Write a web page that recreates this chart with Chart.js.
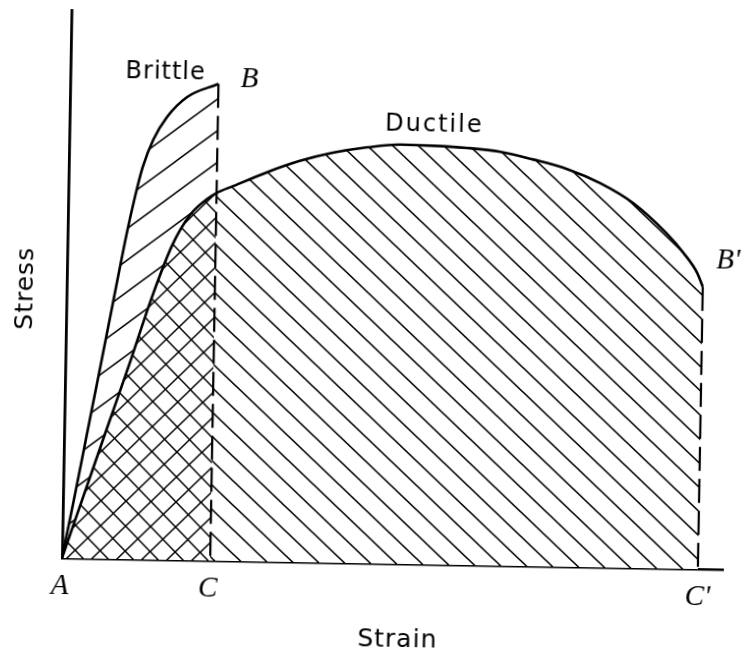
<!DOCTYPE html>
<html>
<head>
<meta charset="utf-8">
<script src="https://cdn.jsdelivr.net/npm/chart.js@4.4.1/dist/chart.umd.min.js"></script>
<style>
html,body{margin:0;padding:0;background:#fff;overflow:hidden;width:742px;height:655px}
#c{display:block;transform:rotate(1deg);transform-origin:62px 558px}
</style>
</head>
<body>
<canvas id="c" width="742" height="655"></canvas>
<script>
// ---- data (arbitrary strain / stress units) ----
const brittleStrain = [0, 0.17, 0.36, 0.55, 0.74, 0.93, 1.04, 1.16, 1.32, 1.53, 1.84, 2.33];
const brittleStress = [0, 10.6, 22.8, 35.0, 47.3, 59.5, 65.7, 71.5, 76.6, 80.8, 84.5, 87.0];
const ductileStrain = [0, 0.33, 0.66, 0.99, 1.34, 1.65, 1.92, 2.20, 2.33, 2.59, 3.11, 3.63, 4.15, 4.69, 5.20, 5.72, 6.26, 6.78, 7.30, 7.83, 8.36, 8.88, 9.42, 9.69, 9.91, 10.0];
const ductileStress = [0, 11.7, 23.4, 35.0, 47.8, 57.5, 63.0, 66.1, 67.1, 68.4, 71.0, 73.2, 74.8, 75.9, 76.5, 76.4, 76.1, 75.5, 74.2, 72.6, 70.1, 66.6, 61.1, 57.6, 54.0, 51.5];
const pointLabels = ['A', 'C', "C'"];
const pointLabelStrain = [0, 2.33, 10.0];
const curveNames = ['Brittle', 'Ductile'];
const endLabels = ['B', "B'"];
const xTitle = 'Strain';
const yTitle = 'Stress';
const strainMax = 10.4;
const stressMax = 100;

// ---- derived ----
const pts = (xs, ys) => xs.map((x, i) => ({x, y: ys[i]}));
const brittlePts = pts(brittleStrain, brittleStress);
const ductilePts = pts(ductileStrain, ductileStress);
const cStrain = brittleStrain[brittleStrain.length - 1];
const bStress = brittleStress[brittleStress.length - 1];
const cpStrain = ductileStrain[ductileStrain.length - 1];
const bpStress = ductileStress[ductileStress.length - 1];
const overlapPts = ductilePts.filter(p => p.x <= cStrain);

function hatch(w, h, dirs, lw) {
  const c = document.createElement('canvas');
  c.width = w; c.height = h;
  const g = c.getContext('2d');
  g.fillStyle = '#fff'; g.fillRect(0, 0, w, h);
  g.strokeStyle = '#000'; g.lineWidth = lw;
  for (const d of dirs) {
    for (const k of [-1, 0, 1]) {
      g.beginPath();
      if (d === 'back') { g.moveTo(k * w - w, -h); g.lineTo(k * w + 2 * w, 2 * h); }
      else { g.moveTo(k * w - w, 2 * h); g.lineTo(k * w + 2 * w, -h); }
      g.stroke();
    }
  }
  return g.createPattern(c, 'repeat');
}
const ductilePattern = hatch(26, 24, ['back'], 1.6);
const brittlePattern = hatch(42, 32, ['fwd'], 1.5);
const crossPattern = hatch(25, 25, ['back', 'fwd'], 1.5);

const labelPlugin = {
  id: 'labels',
  afterDraw(chart) {
    const {ctx, chartArea, scales: {x, y}} = chart;
    ctx.save();
    ctx.fillStyle = '#000';
    ctx.textAlign = 'center';
    ctx.textBaseline = 'middle';
    // point letters on the strain axis
    ctx.font = 'italic 29px "Liberation Serif"';
    const base = y.getPixelForValue(0);
    pointLabels.forEach((t, i) => {
      ctx.fillText(t, x.getPixelForValue(pointLabelStrain[i]) - 2 + (i === 2 ? 2 : 0), base + 28);
    });
    // fracture points
    ctx.fillText(endLabels[0], x.getPixelForValue(cStrain) + 31, y.getPixelForValue(bStress) - 5);
    ctx.fillText(endLabels[1], x.getPixelForValue(cpStrain) + 25, y.getPixelForValue(bpStress) - 26);
    // curve names
    ctx.font = '24px "DejaVu Sans"';
    ctx.letterSpacing = '1px';
    ctx.fillText(curveNames[0], x.getPixelForValue(cStrain) - 53, y.getPixelForValue(bStress) - 10);
    let im = 0; ductileStress.forEach((v, i) => { if (v > ductileStress[im]) im = i; });
    ctx.letterSpacing = '2px';
    ctx.fillText(curveNames[1], x.getPixelForValue(ductileStrain[im]) + 34, y.getPixelForValue(ductileStress[im]) - 20);
    // axis titles
    ctx.font = '25px "DejaVu Sans"';
    ctx.letterSpacing = '1px';
    ctx.fillText(xTitle, (chartArea.left + chartArea.right) / 2 + 6, chartArea.bottom + 76);
    ctx.save();
    ctx.translate(chartArea.left - 41, (chartArea.top + chartArea.bottom) / 2 + 5);
    ctx.rotate(-Math.PI / 2);
    ctx.fillText(yTitle, 0, 0);
    ctx.restore();
    ctx.restore();
  }
};

new Chart(document.getElementById('c'), {
  type: 'scatter',
  data: {
    datasets: [
      { data: [{x: cStrain, y: bStress}, {x: cStrain, y: 0}], showLine: true, pointRadius: 0,
        borderColor: '#000', borderWidth: 2.2, borderDash: [24, 8], fill: false },
      { data: [{x: cpStrain, y: bpStress}, {x: cpStrain, y: 0}], showLine: true, pointRadius: 0,
        borderColor: '#000', borderWidth: 2.2, borderDash: [24, 8], fill: false },
      { data: overlapPts, showLine: true, pointRadius: 0, borderWidth: 0, borderColor: 'rgba(0,0,0,0)',
        cubicInterpolationMode: 'monotone', fill: 'origin', backgroundColor: crossPattern },
      { data: brittlePts, showLine: true, pointRadius: 0, borderColor: '#000', borderWidth: 2.6,
        cubicInterpolationMode: 'monotone', fill: 'origin', backgroundColor: brittlePattern },
      { data: ductilePts, showLine: true, pointRadius: 0, borderColor: '#000', borderWidth: 2.6,
        cubicInterpolationMode: 'monotone', fill: 'origin', backgroundColor: ductilePattern }
    ]
  },
  options: {
    responsive: false,
    animation: false,
    devicePixelRatio: 1,
    layout: { padding: { left: 62, right: 18.6, top: 10, bottom: 97 } },
    plugins: { legend: { display: false }, tooltip: { enabled: false }, filler: { drawTime: 'beforeDatasetsDraw' } },
    scales: {
      x: { type: 'linear', min: 0, max: strainMax, grid: { display: false, drawTicks: false, tickLength: 0 },
           ticks: { display: false, padding: 0 }, border: { display: true, color: '#000', width: 2.5 } },
      y: { type: 'linear', min: 0, max: stressMax, grid: { display: false, drawTicks: false, tickLength: 0 },
           ticks: { display: false, padding: 0 }, border: { display: true, color: '#000', width: 2.8 } }
    }
  },
  plugins: [labelPlugin]
});
</script>
</body>
</html>
